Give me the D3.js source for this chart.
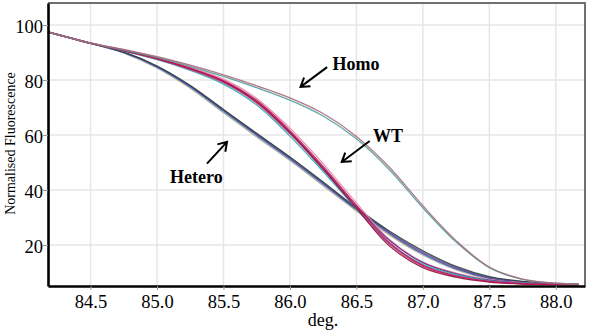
<!DOCTYPE html>
<html>
<head>
<meta charset="utf-8">
<script src="https://cdn.jsdelivr.net/npm/d3@7"></script>
<style>
  body { margin: 0; background: #fff; }
  svg { display: block; font-family: "Liberation Serif", "Times New Roman", serif; }
</style>
</head>
<body>
<svg id="chart" width="590" height="330"></svg>
<script>
// melt curve data
const temps = [84.18, 84.5, 84.75, 85.0, 85.25, 85.5, 85.75, 86.0, 86.25, 86.5, 86.75, 87.0, 87.25, 87.5, 87.75, 88.0, 88.17];

const homoA = [97.5, 93.5, 91.1, 88.5, 85.4, 81.9, 77.9, 73.5, 67.8, 59.5, 48.2, 34.3, 21.6, 12.0, 7.6, 6.1, 5.8];
const homoB = [97.4, 93.4, 90.9, 88.2, 85.0, 81.3, 77.2, 72.7, 66.9, 58.6, 47.3, 33.5, 21.1, 11.8, 7.5, 6.1, 5.8];

const wt1 = [97.5, 93.4, 90.8, 87.9, 84.3, 79.8, 72.6, 61.6, 48.6, 34.4, 20.8, 12.6, 8.8, 6.8, 6.0, 5.7, 5.6];
const wt2 = [97.4, 93.4, 90.6, 87.6, 83.8, 79.0, 71.6, 60.4, 47.4, 33.5, 20.2, 12.3, 8.6, 6.7, 5.9, 5.7, 5.6];
const wt3 = [97.5, 93.3, 90.5, 87.4, 83.5, 78.5, 70.9, 59.6, 46.7, 33.2, 20.6, 13.0, 9.2, 7.0, 6.1, 5.8, 5.6];
const wt4 = [97.4, 93.3, 90.7, 87.7, 84.0, 79.3, 71.9, 60.9, 48.0, 34.2, 21.6, 13.6, 9.5, 7.2, 6.2, 5.8, 5.7];
const wt5 = [97.5, 93.4, 90.9, 88.1, 84.6, 80.3, 73.3, 62.5, 49.6, 35.3, 21.9, 13.8, 9.8, 7.4, 6.3, 5.9, 5.7];
const wt6 = [97.4, 93.3, 90.7, 87.8, 84.1, 79.5, 72.1, 60.9, 47.6, 33.4, 19.6, 11.8, 8.3, 6.5, 5.8, 5.6, 5.5];

const het1 = [97.5, 93.4, 90.1, 85.1, 78.0, 69.3, 60.6, 52.0, 42.9, 33.5, 25.0, 17.9, 12.2, 8.5, 6.8, 6.0, 5.8];
const het2 = [97.5, 93.4, 90.0, 84.8, 77.6, 68.8, 60.0, 51.4, 42.3, 33.0, 24.2, 16.9, 11.4, 8.0, 6.5, 5.9, 5.7];
const het3 = [97.4, 93.3, 89.8, 84.4, 77.0, 68.1, 59.3, 50.7, 41.6, 32.4, 23.6, 16.4, 11.0, 7.7, 6.3, 5.8, 5.6];
const het4 = [97.4, 93.3, 89.9, 84.6, 77.3, 68.4, 59.6, 51.0, 41.9, 32.7, 23.9, 16.6, 11.2, 7.8, 6.4, 5.9, 5.7];
const het5 = [97.5, 93.4, 90.1, 85.0, 77.9, 69.1, 60.3, 51.8, 42.6, 33.2, 24.6, 17.4, 11.8, 8.2, 6.6, 6.0, 5.7];

const xTicks = [84.5, 85.0, 85.5, 86.0, 86.5, 87.0, 87.5, 88.0];
const yTicks = [20, 40, 60, 80, 100];

const series = [
  { vals: het3, color: "#b8a870" },
  { vals: het4, color: "#88b4d4" },
  { vals: het5, color: "#7a4e9e" },
  { vals: het2, color: "#4a4aa0" },
  { vals: het1, color: "#2c3e3e" },
  { vals: wt5, color: "#e08aa8" },
  { vals: wt4, color: "#6a2a8a" },
  { vals: wt3, color: "#22b4b4" },
  { vals: wt2, color: "#d0408a" },
  { vals: wt6, color: "#8a1a3a" },
  { vals: wt1, color: "#c8145a" },
  { vals: homoB, color: "#4f9e9e" },
  { vals: homoA, color: "#a86878" }
];

const svg = d3.select('#chart');
const x = d3.scaleLinear().domain([84.18, 88.22]).range([48, 585]);
const y = d3.scaleLinear().domain([5.1, 108]).range([286, 3]);

// grid
const grid = svg.append('g');
grid.selectAll('.vg').data(xTicks).join('line')
    .attr('x1', d => x(d)).attr('x2', d => x(d))
    .attr('y1', y.range()[1]).attr('y2', y.range()[0])
    .attr('stroke', '#e6e6e6').attr('stroke-width', 1.5);
grid.selectAll('.hg').data(yTicks).join('line')
    .attr('y1', d => y(d)).attr('y2', d => y(d))
    .attr('x1', x.range()[0]).attr('x2', x.range()[1])
    .attr('stroke', '#e6e6e6').attr('stroke-width', 1.5);

// frame: gray top/right
svg.append('path')
   .attr('d', `M${x.range()[0]},${y.range()[1]}H${x.range()[1]}V${y.range()[0]}`)
   .attr('fill', 'none').attr('stroke', '#707070').attr('stroke-width', 2);

// curves
const line = d3.line()
               .x((d, i) => x(temps[i]))
               .y(d => y(d))
               .curve(d3.curveCatmullRom.alpha(0.5));
svg.append('g').selectAll('path')
   .data(series)
   .join('path')
   .attr('d', d => line(d.vals))
   .attr('fill', 'none')
   .attr('stroke', d => d.color)
   .attr('stroke-width', 1.3)
   .attr('opacity', 0.9);

// axes
const xAxis = svg.append('g').attr('transform', `translate(0, ${y.range()[0]})`)
                 .call(d3.axisBottom(x).tickValues(xTicks).tickFormat(d3.format('.1f')).tickSize(4).tickSizeOuter(0));
const yAxis = svg.append('g').attr('transform', `translate(${x.range()[0]}, 0)`)
                 .call(d3.axisLeft(y).tickValues(yTicks).tickSize(5).tickSizeOuter(0));
[xAxis, yAxis].forEach(a => {
  a.select('.domain').attr('stroke', '#000').attr('stroke-width', 2.6);
  a.selectAll('.tick line').attr('stroke', '#999');
  a.selectAll('.tick text')
   .attr('font-family', '"Liberation Serif", serif')
   .attr('font-size', 18.5).attr('fill', '#000');
});
xAxis.selectAll('.tick text').attr('y', 9).attr('dy', '0.71em');
yAxis.selectAll('.tick text').attr('x', -5).attr('dy', '0.4em');

// axis titles
svg.append('text')
   .attr('x', 323).attr('y', 326)
   .attr('text-anchor', 'middle')
   .attr('font-size', 18)
   .text('deg.');
svg.append('text')
   .attr('transform', 'translate(15, 143.5) rotate(-90)')
   .attr('text-anchor', 'middle')
   .attr('font-size', 14)
   .text('Normalised Fluorescence');

// annotations
const notes = svg.append('g').attr('font-weight', 'bold').attr('font-size', 18);
const arrow = (x1, y1, x2, y2) => {
  const px1 = x(x1), py1 = y(y1), px2 = x(x2), py2 = y(y2);
  const ang = Math.atan2(py2 - py1, px2 - px1);
  const L = 10, a = Math.PI / 5.5;
  notes.append('path')
       .attr('d', `M${px1},${py1}L${px2},${py2}` +
                  `M${px2 - L * Math.cos(ang - a)},${py2 - L * Math.sin(ang - a)}L${px2},${py2}` +
                  `L${px2 - L * Math.cos(ang + a)},${py2 - L * Math.sin(ang + a)}`)
       .attr('fill', 'none').attr('stroke', '#000').attr('stroke-width', 2);
};
notes.append('text').attr('x', x(86.32)).attr('y', y(83.6)).text('Homo');
arrow(86.28, 84.7, 86.08, 77.5);
notes.append('text').attr('x', x(86.625)).attr('y', y(57.5)).text('WT');
arrow(86.60, 57.8, 86.39, 50.2);
notes.append('text').attr('x', x(85.098)).attr('y', y(42.55)).text('Hetero');
arrow(85.376, 49.6, 85.527, 57.5);
</script>
</body>
</html>
